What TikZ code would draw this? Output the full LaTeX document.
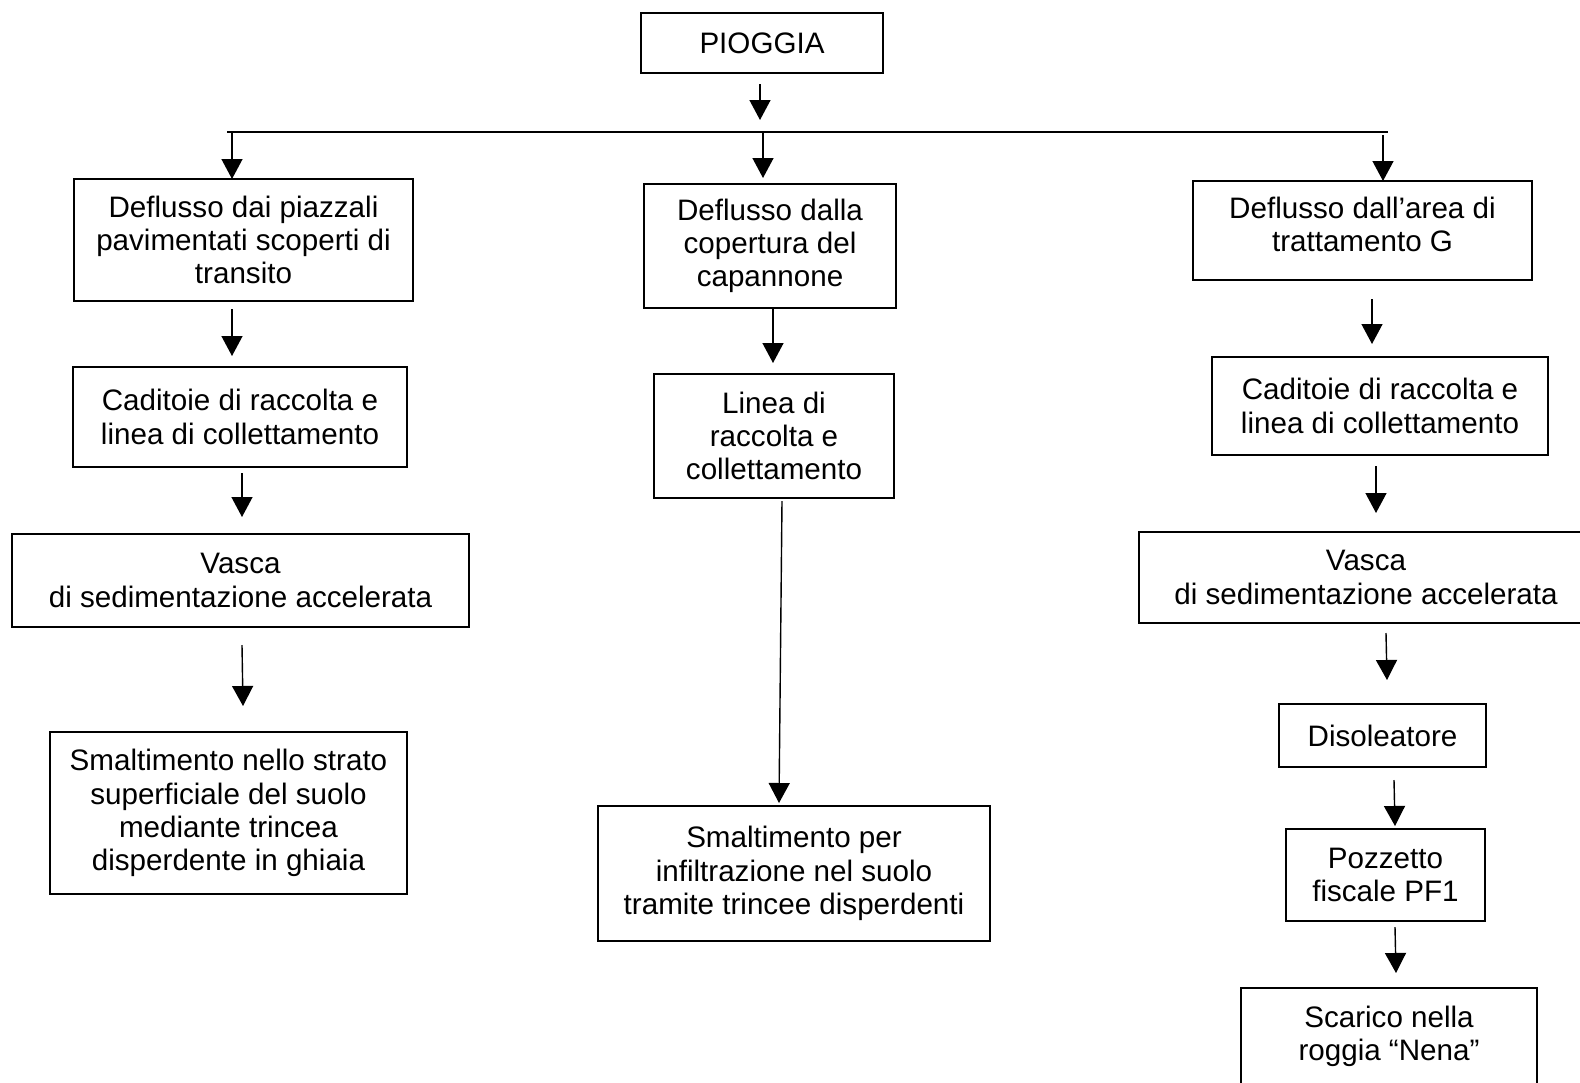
\documentclass[tikz,border=0pt]{standalone}
\usepackage{fontspec}
\setmainfont{Liberation Sans}
\usetikzlibrary{arrows.meta}
\definecolor{ink}{RGB}{0,0,0}
\definecolor{paper}{RGB}{255,255,255}

\begin{document}
\begin{tikzpicture}[x=0.5pt,y=-0.5pt,
  box/.style n args={2}{draw=ink,line width=0.7pt,minimum width=#1*0.5pt,
    minimum height=#2*0.5pt,inner sep=0pt,align=center,
    font=\fontsize{14.8}{16.6}\selectfont},
  flow/.style={ink,line width=0.7pt,-{Triangle[length=10pt,width=10.5pt]}},
  bus/.style={ink,line width=0.7pt}]
  \useasboundingbox (0,0) rectangle (1580,1082);
  \fill[paper] (0,0) rectangle (1580,1082);

  % top
  \node[box={242}{60}] (rain) at (762,43) {PIOGGIA};
  \coordinate (r0) at (760,84);
  \coordinate (r1) at (760,120);
  \draw[flow] (r0) -- (r1);

  % distribution line
  \coordinate (busL) at (227,132);
  \coordinate (busR) at (1388,132);
  \draw[bus] (busL) -- (busR);

  % left branch
  \node[box={339}{122}] (yard) at (243.5,240)
    {Deflusso dai piazzali\\pavimentati scoperti di\\transito};
  \node[box={334}{100}] (gridL) at (240,417)
    {Caditoie di raccolta e\\linea di collettamento};
  \node[box={457}{93}] (tankL) at (240.5,580.5)
    {Vasca\\di sedimentazione accelerata};
  \node[box={357}{162}] (trench) at (228.5,813)
    {Smaltimento nello strato\\superficiale del suolo\\mediante trincea\\disperdente in ghiaia};
  \coordinate (l0) at (232,132);
  \coordinate (l1) at (232,179);
  \coordinate (l2) at (232,309);
  \coordinate (l3) at (232,356);
  \coordinate (l4) at (242,473);
  \coordinate (l5) at (242,517);
  \coordinate (l6) at (242,645);
  \coordinate (l7) at (243,706);
  \draw[flow] (l0) -- (l1);
  \draw[flow] (l2) -- (l3);
  \draw[flow] (l4) -- (l5);
  \draw[flow] (l6) -- (l7);

  % middle branch
  \node[box={252}{124}] (roof) at (770,246)
    {Deflusso dalla\\copertura del\\capannone};
  \node[box={240}{124}] (lineM) at (774,436)
    {Linea di\\raccolta e\\collettamento};
  \node[box={392}{135}] (soak) at (794,873.5)
    {Smaltimento per\\infiltrazione nel suolo\\tramite trincee disperdenti};
  \coordinate (m0) at (763,132);
  \coordinate (m1) at (763,178);
  \coordinate (m2) at (773,309);
  \coordinate (m3) at (773,363);
  \coordinate (m4) at (782,501);
  \coordinate (m5) at (779,803);
  \draw[flow] (m0) -- (m1);
  \draw[flow] (m2) -- (m3);
  \draw[flow] (m4) -- (m5);

  % right branch
  \node[box={339}{99}] (areaG) at (1362.5,230.5)
    {Deflusso dall’area di\\trattamento G\\[-10pt]\mbox{}};
  \node[box={336}{98}] (gridR) at (1380,406)
    {Caditoie di raccolta e\\linea di collettamento};
  \node[box={454}{91}] (tankR) at (1366,577.5)
    {Vasca\\di sedimentazione accelerata};
  \node[box={207}{63}] (oil) at (1382.5,735.5) {Disoleatore};
  \node[box={199}{92}] (well) at (1385.5,875) {Pozzetto\\fiscale PF1};
  \node[box={296}{124}] (outlet) at (1389,1050)
    {Scarico nella\\roggia “Nena”\\\mbox{}};
  \coordinate (g0) at (1383,135);
  \coordinate (g1) at (1383,181);
  \coordinate (g2) at (1372,299);
  \coordinate (g3) at (1372,344);
  \coordinate (g4) at (1376,466);
  \coordinate (g5) at (1376,513);
  \coordinate (g6) at (1386,633);
  \coordinate (g7) at (1387,680);
  \coordinate (g8) at (1394,780);
  \coordinate (g9) at (1395,826);
  \coordinate (g10) at (1395,927);
  \coordinate (g11) at (1396,973);
  \draw[flow] (g0) -- (g1);
  \draw[flow] (g2) -- (g3);
  \draw[flow] (g4) -- (g5);
  \draw[flow] (g6) -- (g7);
  \draw[flow] (g8) -- (g9);
  \draw[flow] (g10) -- (g11);
\end{tikzpicture}
\end{document}
